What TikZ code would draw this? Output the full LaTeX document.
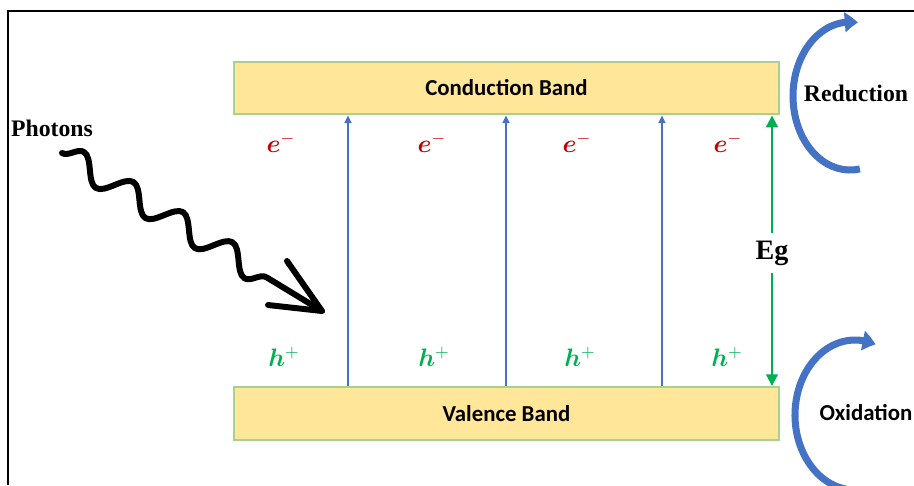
\documentclass[tikz,border=0pt]{standalone}
\usepackage{fontspec}
\setmainfont{Liberation Serif}
\newfontfamily\calib{Carlito}
\usepackage{bm}
\usetikzlibrary{positioning}
\usetikzlibrary{arrows.meta}
\usetikzlibrary{bending}
\usetikzlibrary{decorations.pathmorphing}
\definecolor{bandfill}{HTML}{FFE699}
\definecolor{bandline}{HTML}{A9D18E}
\definecolor{mblue}{HTML}{4472C4}
\definecolor{mgreen}{HTML}{00B050}
\definecolor{mred}{HTML}{C00000}
\tikzset{band/.style = {draw=bandline, fill=bandfill, line width=1.2pt,
                        minimum width=10.9cm, minimum height=1.05cm,
                        font=\calib\bfseries\fontsize{13}{15}\selectfont}}
\tikzset{excite/.style = {mblue, line width=1.1pt,
                          -{Triangle[length=4.5pt, width=4pt]}}}
\tikzset{gaparrow/.style = {mgreen, line width=1.7pt,
                            -{Triangle[length=6.8pt, width=6.5pt]}}}
\tikzset{redox/.style = {mblue, line width=4pt,
                         -{Triangle[length=7.5pt, width=11pt, bend]}}}
\tikzset{photon/.style = {line width=3.4pt, line cap=round, line join=round}}
\tikzset{elec/.style = {text=mred, font=\fontsize{14}{16}\selectfont}}
\tikzset{hole/.style = {text=mgreen, font=\fontsize{14}{16}\selectfont}}
\tikzset{bold/.style = {font=\bfseries\fontsize{13.5}{15}\selectfont}}

\begin{document}
\begin{tikzpicture}[x=0.02cm, y=0.02cm]
  \useasboundingbox (0,0) rectangle (914,-485);
  \draw[line width=0.9pt] (8,-485) -- (8,-11) -- (914,-11);
  % bands
  \node[band] (cb) at (506.5,-88) {Conduction Band};
  \node[band] (vb) at (506.5,-413.5) {Valence Band};
  % excitations
  \foreach \xx [count=\i] in {348,506,662} {
    \coordinate (col\i) at (\xx,0);
    \draw[excite] (vb.north -| col\i) -- (cb.south -| col\i);
  }
  \foreach \xx [count=\i] in {281,432,577,728}
    \node[elec] (e\i) at (\xx,-143) {$\bm{e}^{-}$};
  \foreach \xx [count=\i] in {284,434,580,727}
    \node[hole] (h\i) at (\xx,-357) {$\bm{h}^{+}$};
  % band gap
  \node[font=\bfseries\fontsize{16}{18}\selectfont, inner sep=4pt] (eg) at (772,-253) {Eg};
  \draw[gaparrow] (eg.north) -- (cb.south -| eg);
  \draw[gaparrow] (eg.south) -- (vb.north -| eg);
  % photons
  \node[bold] (ph) at (52,-128) {Photons};
  \coordinate (ph0) at (62,-153);
  \coordinate (ph1) at (322,-311);
  \draw[photon, decorate, decoration={snake, amplitude=7pt, segment length=33pt,
        post length=30pt}] (ph0) -- (ph1);
  \draw[photon] (ph1) ++(-35,50) -- (ph1) -- ++(-54,6);
  % redox
  \coordinate (redc) at (850,-96);
  \coordinate (oxc) at (855,-415);
  \draw[redox] (redc) ++(280:57 and 74)
    arc[start angle=280, end angle=82, x radius=57, y radius=74];
  \draw[redox] (oxc) ++(262:60 and 75)
    arc[start angle=262, end angle=70, x radius=60, y radius=75];
  \node[bold] (red) at (856,-93) {Reduction};
  \node[font=\calib\bfseries\fontsize{13}{15}\selectfont] (ox) at (866,-413) {Oxidation};
\end{tikzpicture}
\end{document}
